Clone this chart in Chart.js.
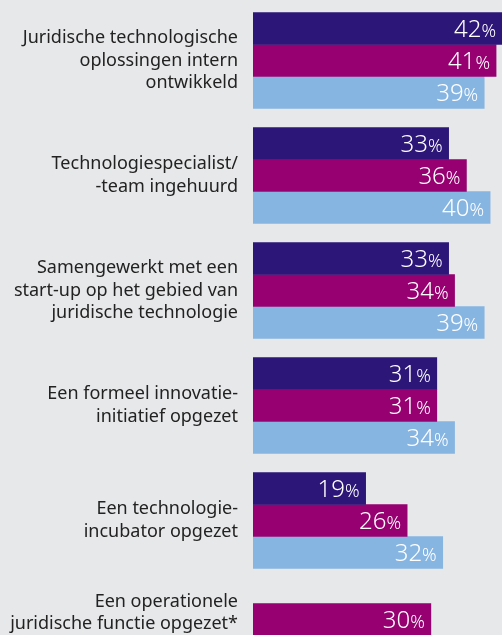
<!DOCTYPE html>
<html>
<head>
<meta charset="utf-8">
<script src="https://cdn.jsdelivr.net/npm/chart.js@4/dist/chart.umd.min.js"></script>
<style>
  html, body { margin: 0; padding: 0; background: #e7e8ea; overflow: hidden; width: 502px; height: 635px; }
  #wrap { position: relative; width: 502px; height: 700px; }
</style>
</head>
<body>
<div id="wrap"><canvas id="c"></canvas></div>
<script>
const categories = [
  ["Juridische technologische", "oplossingen intern", "ontwikkeld"],
  ["Technologiespecialist/", "-team ingehuurd"],
  ["Samengewerkt met een", "start-up op het gebied van", "juridische technologie"],
  ["Een formeel innovatie-", "initiatief opgezet"],
  ["Een technologie-", "incubator opgezet"],
  ["Een operationele", "juridische functie opgezet*", "", ""]
];
const seriesNavy = [42, 33, 33, 31, 19, null];
const seriesMagenta = [41, 36, 34, 31, 26, 30];
const seriesLightBlue = [39, 40, 39, 34, 32, 30];
const colors = ['#2c1778', '#960070', '#87b5e2'];

const valueLabels = {
  id: 'valueLabels',
  afterDatasetsDraw(chart) {
    const ctx = chart.ctx;
    ctx.save();
    ctx.fillStyle = '#ffffff';
    ctx.textBaseline = 'alphabetic';
    ctx.textAlign = 'right';
    chart.data.datasets.forEach((ds, di) => {
      const meta = chart.getDatasetMeta(di);
      meta.data.forEach((el, i) => {
        const v = ds.data[i];
        if (v === null || v === undefined) return;
        const xEnd = Math.min(el.x, chart.chartArea.right);
        const yBase = el.y + 8;
        ctx.font = '300 18px "Noto Sans", sans-serif';
        const pw = ctx.measureText('%').width;
        ctx.fillText('%', xEnd - 6, yBase);
        ctx.font = '300 24px "Noto Sans", sans-serif';
        ctx.fillText(String(v), xEnd - 6 - pw, yBase);
      });
    });
    ctx.restore();
  }
};

new Chart(document.getElementById('c'), {
  type: 'bar',
  data: {
    labels: categories,
    datasets: [
      { data: seriesNavy, backgroundColor: colors[0] },
      { data: seriesMagenta, backgroundColor: colors[1] },
      { data: seriesLightBlue, backgroundColor: colors[2] }
    ]
  },
  options: {
    indexAxis: 'y',
    responsive: true,
    maintainAspectRatio: false,
    animation: false,
    skipNull: true,
    datasets: { bar: { barThickness: 32, skipNull: true, borderWidth: 0 } },
    layout: { padding: { top: 3, bottom: 7, left: 0, right: 0 } },
    plugins: { legend: { display: false }, tooltip: { enabled: false } },
    scales: {
      x: { display: false, min: 0, max: 42 },
      y: {
        grid: { display: false, drawTicks: false },
        border: { display: false },
        ticks: {
          padding: 15,
          color: '#222222',
          font: { family: '"Noto Sans", sans-serif', size: 18, lineHeight: 1.25 }
        },
        afterFit(scale) {
          scale.width = 253;
          scale.paddingTop = 0;
          scale.paddingBottom = 0;
        }
      }
    }
  },
  plugins: [valueLabels]
});
</script>
</body>
</html>
